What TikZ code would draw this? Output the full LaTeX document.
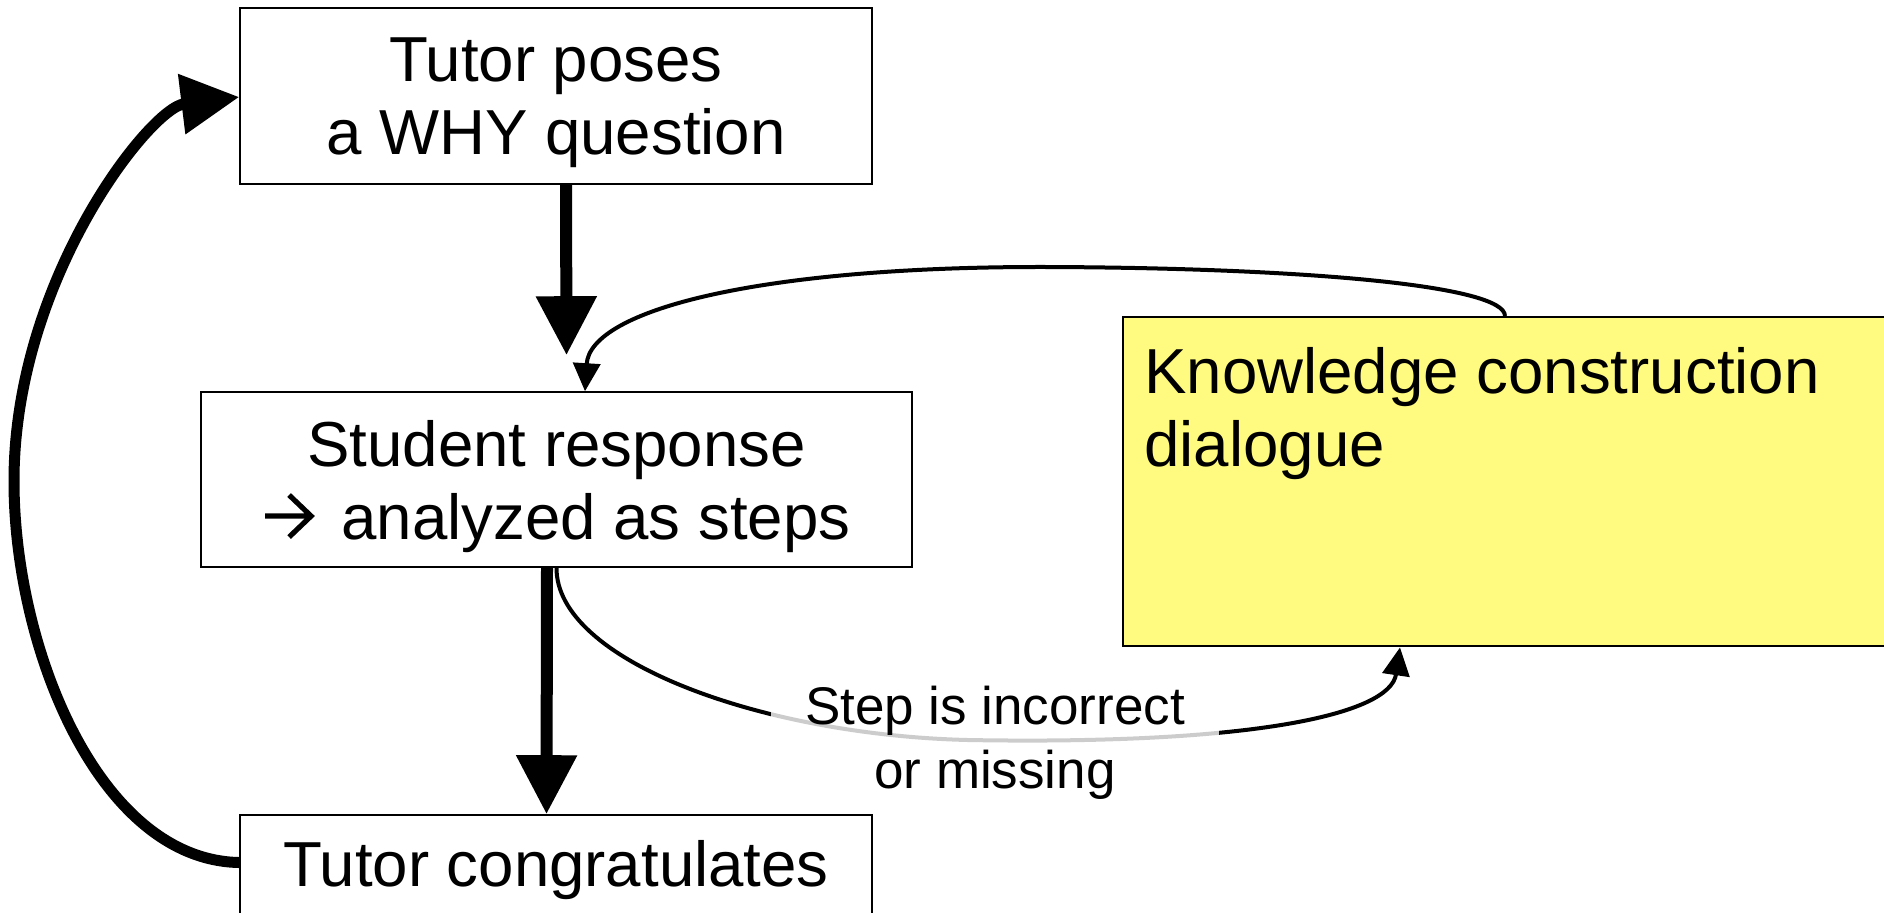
\documentclass[tikz,border=0pt]{standalone}
\usepackage{fontspec}
\setmainfont{Liberation Sans}
\usetikzlibrary{arrows.meta,calc}
\definecolor{kcdyellow}{RGB}{255,251,128}
% keep a line's descenders out of the node's vertical centring
\newcommand\nodepth[1]{\raisebox{0pt}[\height][0pt]{#1}}
% open-headed arrow sitting on the baseline, as tall as a capital
\newcommand\textarrow{\tikz[baseline=0pt,x=1pt,y=1pt]
  \draw[line width=2.6pt, miter limit=4] (0,11.5) -- (23,11.5)
        (12,22) -- (23,11.5) -- (12,1);}

\begin{document}
\begin{tikzpicture}[x=0.5pt,y=-0.5pt,
  stepbox/.style={draw=black, line width=0.8pt, fill=white, align=center,
    inner sep=0pt, font=\fontsize{31.8}{36.5}\selectfont},
  kcdbox/.style={draw=black, line width=1.2pt, fill=kcdyellow, inner sep=0pt},
  kcdtext/.style={align=left, inner sep=0pt, font=\fontsize{31.8}{36.5}\selectfont},
  edgelabel/.style={fill=white, fill opacity=0.8, text opacity=1, align=center,
    inner xsep=0pt, inner ysep=2pt, font=\fontsize{26.5}{31.8}\selectfont},
  mainflow/.style={line width=6pt, -{Triangle[length=29.5pt,width=29pt]}},
  loopflow/.style={line width=5.5pt, -{Triangle[length=29pt,width=29pt]}},
  sideflow/.style={line width=2pt, -{Triangle[length=14pt,width=13.5pt]}}]

\useasboundingbox (0,0) rectangle (1884,912);
\clip (0,0) rectangle (1884,912);

% boxes
\node[stepbox, minimum width=316pt, minimum height=88pt] (pose) at (556,96)
  {Tutor poses\\\nodepth{a WHY question}};
\node[stepbox, minimum width=355.5pt, minimum height=87.5pt] (resp) at (556.5,479.5)
  {Student response\\\nodepth{\textarrow\hspace{5pt} analyzed as steps}};
\node[stepbox, minimum width=316pt, minimum height=55.5pt] (congr) at (556,870.5)
  {Tutor congratulates};
\node[kcdbox, anchor=north west, minimum width=420pt, minimum height=164.5pt] (kcd)
  at (1122,316) {};
\node[kcdtext, anchor=north west] (kcdt) at (1144,347)
  {Knowledge construction\\dialogue};

% main flow
\draw[mainflow] ([xshift=5pt]pose.south) -- ([xshift=5pt,yshift=18pt]resp.north);
\draw[mainflow] ([xshift=-4.75pt]resp.south) -- ([xshift=-4.75pt]congr.north);

% loop back to the next question
\draw[loopflow] ([yshift=4pt]congr.west)
  .. controls (100,860) and (14,650) .. (14,481)
  .. controls (14,280) and (150,108) .. ([yshift=-0.5pt]pose.west);

% knowledge construction dialogue round trip
\draw[sideflow] (resp.south)
  .. controls (556,660) and (760,735) .. (968,740)
  .. controls (1250,745) and (1390,715) .. ($(kcd.south west)+(278,0)$);
\draw[sideflow] ($(kcd.north west)+(383,0)$)
  .. controls (1505,285) and (1300,268) .. (1050,267)
  .. controls (760,266) and (590,310) .. ([xshift=14.25pt]resp.north);

\node[edgelabel, minimum width=224pt] (wrong) at (995,737)
  {Step is incorrect\\\nodepth{or missing}};
\end{tikzpicture}
\end{document}
